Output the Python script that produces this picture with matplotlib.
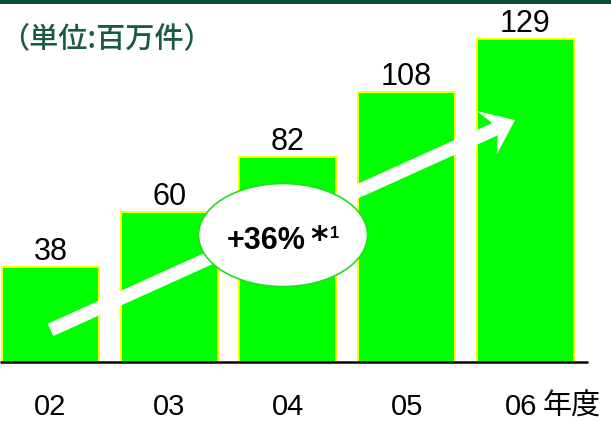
import matplotlib
matplotlib.use("Agg")
import matplotlib.pyplot as plt
import numpy as np
from matplotlib.patches import Ellipse, Polygon, Rectangle
from matplotlib.transforms import IdentityTransform

# Annual volume (millions of items), fiscal years 02-06
years = ["02", "03", "04", "05", "06"]
values = [38, 60, 82, 108, 129]
growth_label = "+36%"
note_mark = "*"
note_num = "1"
unit_label = "（単位:百万件）"
year_suffix = "年度"

W, H, DPI = 611, 422, 100
PT = DPI / 72.0          # pixels per point
fig = plt.figure(figsize=(W / DPI, H / DPI), dpi=DPI)
fig.patch.set_facecolor("white")

# dark green band along the top edge
fig.patches.append(Rectangle((0, 1 - 3.5 / H), 1, 3.5 / H, transform=fig.transFigure,
                             facecolor="#0b4a33", edgecolor="none", zorder=0))

base_px = 362            # baseline position from the top, pixels
px_per_unit = 2.504
step_px = 118.7
first_px = 50.5

ax = fig.add_axes([0, (H - base_px) / H, 1, base_px / H])
ax.set_xlim(-first_px / step_px, (W - first_px) / step_px)
ax.set_ylim(0, base_px / px_per_unit)
ax.axis("off")

x = np.arange(len(years))
ax.bar(x, values, width=0.817, color="#00ff00", edgecolor="#ffff00",
       linewidth=1.4, zorder=2)

# baseline
ax.plot([-first_px / step_px, (588 - first_px) / step_px], [0, 0],
        color="black", lw=1.8, zorder=5, clip_on=False, solid_capstyle="butt")

num_font = "Liberation Sans"
cjk = ["Noto Sans CJK JP", "DejaVu Sans"]
for xi, v in zip(x, values):
    ax.annotate(str(v), (xi, v), xytext=(0, 7 / PT), textcoords="offset points",
                ha="center", va="baseline", fontsize=22, family=num_font,
                color="black", zorder=6)

# year labels under the baseline
for xi, lab in zip(x, years):
    shift = -4 if xi == x[-1] else 0
    ax.annotate(lab, (xi, 0), xytext=(shift / PT, -53 / PT), textcoords="offset points",
                ha="center", va="baseline", fontsize=21, family=num_font,
                color="black", annotation_clip=False)
ax.annotate(year_suffix, (x[-1], 0), xytext=(17 / PT, -53 / PT),
            textcoords="offset points", ha="left", va="baseline", fontsize=21,
            family=cjk, color="black", annotation_clip=False)

# unit caption
fig.text(0 / W, 1 - 47 / H, unit_label, ha="left", va="baseline", fontsize=21,
         family=cjk, fontweight="medium", color="#1b5a42")

# growth arrow from the first bar towards the last one
fig.canvas.draw()
tail = ax.transData.transform((x[0], 12.8))
tip = ax.transData.transform((3.913, 96.6))
d = tip - tail
u = d / np.hypot(*d)
n = np.array([-u[1], u[0]])
shaft_w, head_w, head_len, notch = 13.5, 48.0, 31.0, 9.0
barb = tip - u * head_len
neck = barb + u * notch
pts = [
    tip,
    barb + n * head_w / 2,
    neck + n * shaft_w / 2,
    tail + n * shaft_w / 2,
    tail - n * shaft_w / 2,
    neck - n * shaft_w / 2,
    barb - n * head_w / 2,
]
ax.add_patch(Polygon(np.array(pts), closed=True, transform=IdentityTransform(),
                     facecolor="white", edgecolor="none", zorder=3, clip_on=False))

# ellipse carrying the growth rate
cx, cy = 1.959, 50.7
ax.add_patch(Ellipse((cx, cy), 169 / step_px, 103 / px_per_unit, facecolor="white",
                     edgecolor="#22dd22", linewidth=1.2, zorder=7))
ax.annotate(growth_label, (cx, cy), xytext=(23 / PT, -14 / PT),
            textcoords="offset points", ha="right", va="baseline", fontsize=22,
            fontweight="bold", family=num_font, color="black", zorder=8)
ax.annotate(note_mark, (cx, cy), xytext=(27 / PT, -15 / PT),
            textcoords="offset points", ha="left", va="baseline", fontsize=24,
            fontweight="bold", family="DejaVu Sans", color="black", zorder=8)
ax.annotate(note_num, (cx, cy), xytext=(47 / PT, -3 / PT),
            textcoords="offset points", ha="left", va="baseline", fontsize=12,
            fontweight="bold", family=num_font, color="black", zorder=8)

fig.savefig("out.png", dpi=DPI)
